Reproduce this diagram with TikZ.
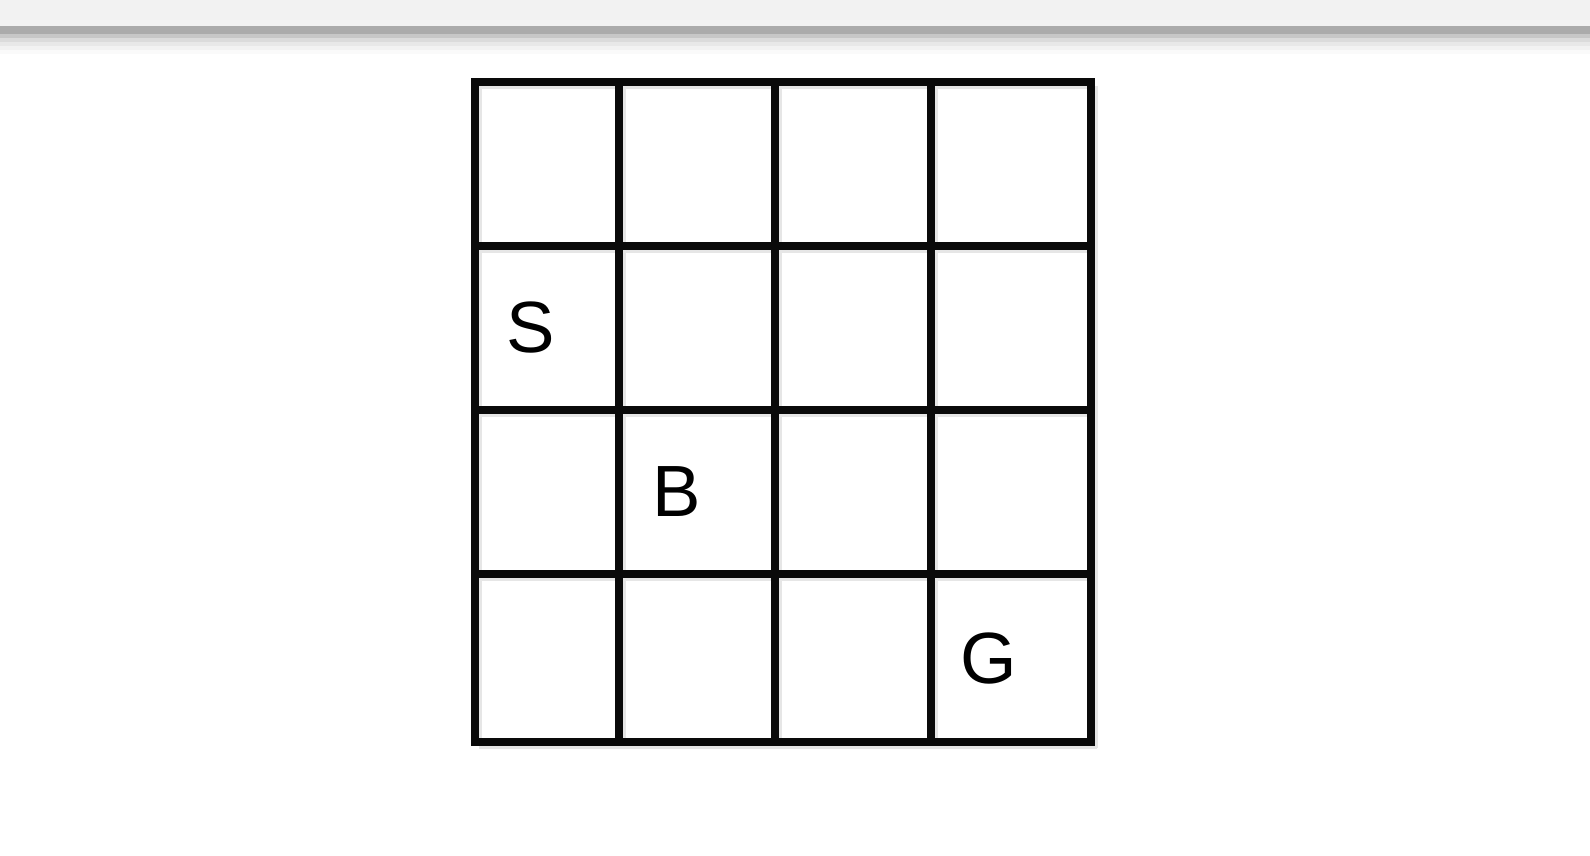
\documentclass[tikz,border=0pt]{standalone}
\usepackage{fontspec}
\setmainfont{Liberation Sans}
\definecolor{barbg}{HTML}{F2F2F2}
\definecolor{shade}{HTML}{E6E6E6}
\definecolor{gridline}{HTML}{0A0A0A}
\tikzset{
  gridstroke/.style={draw=gridline, line width=7.7pt, line cap=rect},
  shadestroke/.style={draw=shade, line width=3pt},
  cellmark/.style={anchor=base, inner sep=0pt, font=\fontsize{72.6}{80}\selectfont, text=black}
}
\begin{document}
\begin{tikzpicture}[x=1pt,y=-1pt]
\useasboundingbox (0,0) rectangle (1590,856);
\fill[white] (0,0) rectangle (1590,856);
% top bar
\fill[barbg] (0,0) rectangle (1590,26);
\fill[black!33] (0,26) rectangle (1590,34);
\fill[black!22] (0,34) rectangle (1590,38);
\fill[black!14] (0,38) rectangle (1590,42);
\fill[black!9] (0,42) rectangle (1590,46);
\fill[black!5] (0,46) rectangle (1590,50);
\fill[black!2] (0,50) rectangle (1590,54);
% light shadow lines
\foreach \x in {475,619,775,931,1091} \draw[shadestroke] (\x+5.5,86) -- (\x+5.5,748);
\foreach \y in {82,246,410,574,742} \draw[shadestroke] (479,\y+5.5) -- (1097,\y+5.5);
% grid
\foreach \x in {475,619,775,931,1091} \draw[gridstroke] (\x,82) -- (\x,742);
\foreach \y in {82,246,410,574,742} \draw[gridstroke] (475,\y) -- (1091,\y);
% letters
\node[cellmark] (s) at (531,352) {S};
\node[cellmark] (b) at (677,516) {B};
\node[cellmark] (g) at (989,683) {G};
\end{tikzpicture}
\end{document}
